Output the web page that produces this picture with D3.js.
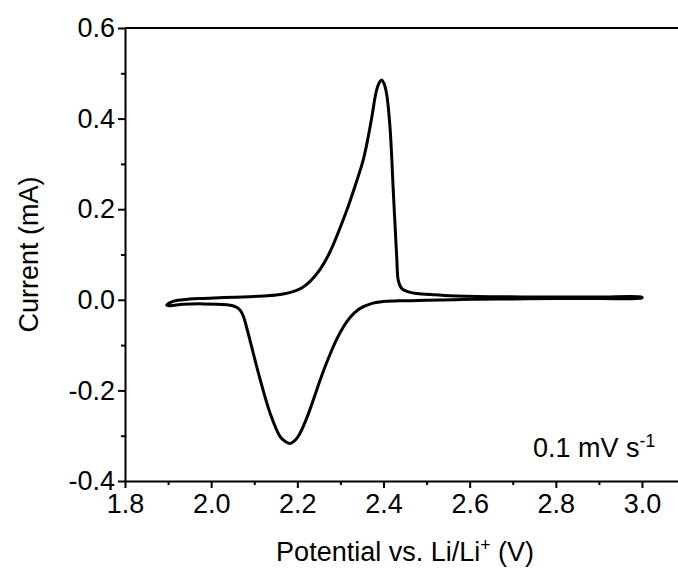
<!DOCTYPE html>
<html>
<head>
<meta charset="utf-8">
<script src="https://cdn.jsdelivr.net/npm/d3@7"></script>
<style>
  html, body { margin: 0; padding: 0; background: #fff; }
  svg { display: block; }
  text { font-family: "Liberation Sans", Arial, sans-serif; fill: #000; }
</style>
</head>
<body>
<svg id="chart" width="678" height="572"></svg>
<script>
// Cyclic voltammogram at 0.1 mV/s — anodic sweep (1.9 -> 3.0 V) then cathodic sweep back.
const anodicV = [1.897, 1.91, 1.935, 1.98, 2.03, 2.09, 2.13, 2.167, 2.19, 2.21, 2.229, 2.252, 2.276, 2.296,
  2.315, 2.335, 2.353, 2.365, 2.373, 2.384, 2.392, 2.396, 2.401, 2.407, 2.415, 2.423, 2.431, 2.434, 2.44,
  2.446, 2.46, 2.477, 2.52, 2.554, 2.65, 2.8, 2.9, 2.999];
const anodicI = [-0.012, -0.004, 0.0, 0.003, 0.005, 0.007, 0.009, 0.013, 0.018, 0.026, 0.040, 0.066, 0.106, 0.151,
  0.198, 0.254, 0.309, 0.362, 0.404, 0.463, 0.482, 0.485, 0.478, 0.456, 0.382, 0.235, 0.088, 0.044, 0.028,
  0.022, 0.017, 0.014, 0.011, 0.009, 0.007, 0.006, 0.006, 0.006];
const cathodicV = [3.0, 2.9, 2.8, 2.7, 2.6, 2.5, 2.45, 2.40, 2.37, 2.346, 2.33, 2.315, 2.30, 2.289, 2.277, 2.265,
  2.253, 2.241, 2.229, 2.218, 2.206, 2.194, 2.183, 2.172, 2.16, 2.137, 2.114, 2.09, 2.082, 2.075, 2.068, 2.06,
  2.05, 2.036, 1.98, 1.935, 1.905];
const cathodicI = [0.004, 0.003, 0.003, 0.002, 0.001, -0.001, -0.002, -0.004, -0.009, -0.019, -0.031, -0.048,
  -0.071, -0.092, -0.118, -0.146, -0.177, -0.210, -0.243, -0.270, -0.295, -0.311, -0.317, -0.313, -0.302,
  -0.251, -0.177, -0.089, -0.06, -0.037, -0.024, -0.017, -0.013, -0.011, -0.009, -0.010, -0.013];

const xTicks = [1.8, 2.0, 2.2, 2.4, 2.6, 2.8, 3.0];
const yTicks = [-0.4, -0.2, 0.0, 0.2, 0.4, 0.6];
const xMinorTicks = [1.9, 2.1, 2.3, 2.5, 2.7, 2.9, 3.1];
const yMinorTicks = [-0.3, -0.1, 0.1, 0.3, 0.5];

const svg = d3.select("#chart");
const plotLeft = 125, plotRight = 642, plotTop = 28, plotBottom = 481;

const x = d3.scaleLinear().domain([1.8, 3.0]).range([plotLeft, plotRight]);
const y = d3.scaleLinear().domain([-0.4, 0.6]).range([plotBottom, plotTop]);
const xEnd = x(3.1);

const fontSize = 27;
const fmt = d => d.toFixed(1);

// frame (top and bottom lines run to the plot's right end at 3.1 V)
svg.append("line").attr("x1", plotLeft).attr("x2", xEnd).attr("y1", plotTop).attr("y2", plotTop)
  .attr("stroke", "#000").attr("stroke-width", 2);

// bottom axis
const xAxis = svg.append("g").attr("transform", `translate(0,${plotBottom})`)
  .call(d3.axisBottom(x).tickValues(xTicks).tickFormat(fmt).tickSize(7).tickSizeOuter(0));
xAxis.select(".domain").attr("d", `M${plotLeft},0.5H${xEnd}`);
const xMinor = svg.append("g").attr("transform", `translate(0,${plotBottom})`)
  .call(d3.axisBottom(x).tickValues(xMinorTicks).tickFormat("").tickSize(4).tickSizeOuter(0));
xMinor.select(".domain").remove();

// left axis
const yAxis = svg.append("g").attr("transform", `translate(${plotLeft},0)`)
  .call(d3.axisLeft(y).tickValues(yTicks).tickFormat(fmt).tickSize(7).tickSizeOuter(0));
const yMinor = svg.append("g").attr("transform", `translate(${plotLeft},0)`)
  .call(d3.axisLeft(y).tickValues(yMinorTicks).tickFormat("").tickSize(4).tickSizeOuter(0));
yMinor.select(".domain").remove();

svg.selectAll(".domain").attr("stroke", "#000").attr("stroke-width", 2);
svg.selectAll(".tick line").attr("stroke", "#000").attr("stroke-width", 2);
svg.selectAll(".tick text").attr("font-size", fontSize)
  .attr("font-family", "'Liberation Sans', Arial, sans-serif").attr("fill", "#000");
xAxis.selectAll(".tick text").attr("y", 9).attr("dy", "0.85em");
yAxis.selectAll(".tick text").attr("x", -10);

// CV curve as one closed loop
const pts = anodicV.map((v, i) => [v, anodicI[i]])
  .concat(cathodicV.map((v, i) => [v, cathodicI[i]]));
const line = d3.line().x(d => x(d[0])).y(d => y(d[1])).curve(d3.curveCatmullRomClosed.alpha(0.5));
svg.append("path").datum(pts).attr("d", line)
  .attr("fill", "none").attr("stroke", "#000").attr("stroke-width", 3).attr("stroke-linejoin", "round");

// axis titles
const xTitle = svg.append("text").attr("x", (plotLeft + xEnd) / 2).attr("y", 561)
  .attr("text-anchor", "middle").attr("font-size", fontSize);
xTitle.append("tspan").text("Potential vs. Li/Li");
xTitle.append("tspan").attr("dy", -10).attr("font-size", fontSize * 0.65).text("+");
xTitle.append("tspan").attr("dy", 10).text(" (V)");

svg.append("text").attr("transform", `translate(38,${(plotTop + plotBottom) / 2}) rotate(-90)`)
  .attr("text-anchor", "middle").attr("font-size", fontSize).text("Current (mA)");

// scan-rate note
const note = svg.append("text").attr("x", 533).attr("y", 457).attr("font-size", fontSize);
note.append("tspan").text("0.1 mV s");
note.append("tspan").attr("dy", -10).attr("font-size", fontSize * 0.65).text("-1");
</script>
</body>
</html>
